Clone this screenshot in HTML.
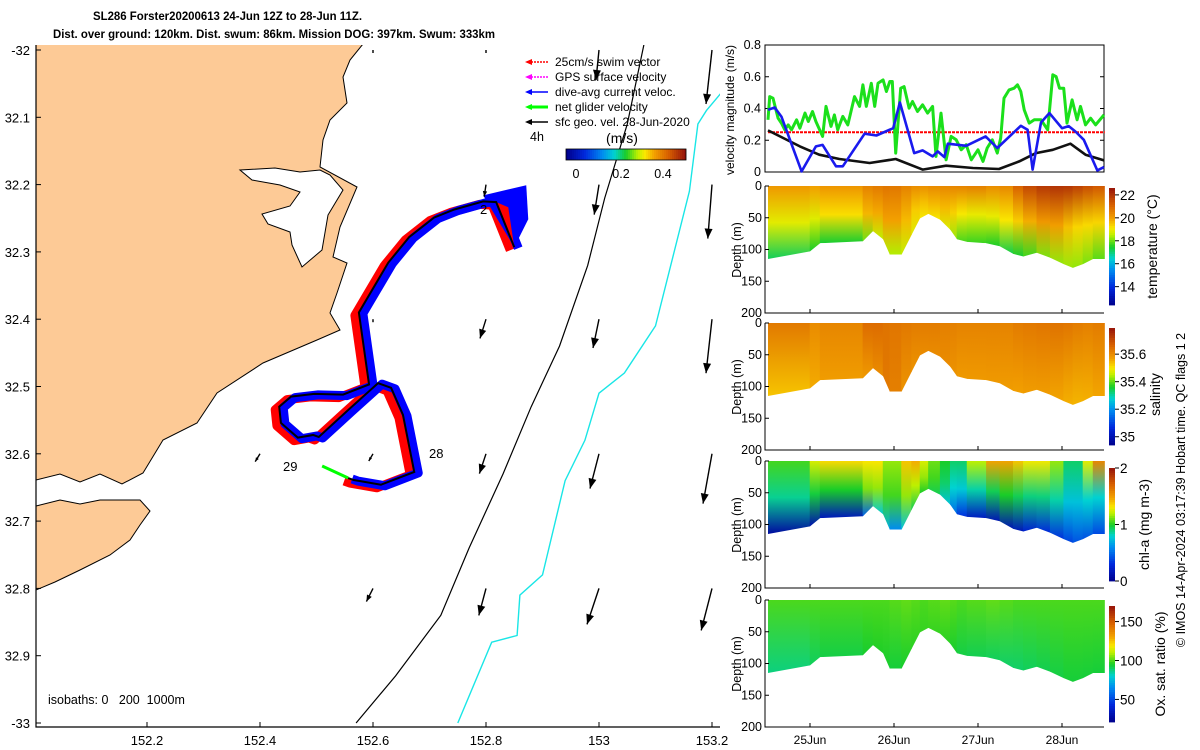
<!DOCTYPE html>
<html><head><meta charset="utf-8"><style>
html,body{margin:0;padding:0;background:#fff}
svg{display:block;font-family:"Liberation Sans","DejaVu Sans",sans-serif}
</style></head><body>
<svg id="fig" width="1200" height="750" viewBox="0 0 1200 750" xmlns="http://www.w3.org/2000/svg">
<defs>
<clipPath id="mapclip"><rect x="36" y="45" width="684" height="682"/></clipPath>
</defs>
<text x="227.5" y="20" font-size="12" font-weight="bold" text-anchor="middle" textLength="269" lengthAdjust="spacingAndGlyphs">SL286 Forster20200613 24-Jun 12Z to 28-Jun 11Z.</text>
<text x="274" y="38" font-size="12" font-weight="bold" text-anchor="middle" textLength="442" lengthAdjust="spacingAndGlyphs">Dist. over ground: 120km. Dist. swum: 86km. Mission DOG: 397km. Swum: 333km</text>
<g id="map"></g>
<g id="vel"></g>
<g id="sections"></g>
<text transform="translate(1185,490) rotate(-90)" font-size="12.5" text-anchor="middle">© IMOS 14-Apr-2024 03:17:39 Hobart time. QC flags 1  2</text>
</svg>
<script>
const NS="http://www.w3.org/2000/svg";
function mk(tag,attrs,parent,txt){const e=document.createElementNS(NS,tag);for(const k in attrs)e.setAttribute(k,attrs[k]);if(txt!==undefined)e.textContent=txt;if(parent)parent.appendChild(e);return e;}

// ---------- data ----------
const lonTicks=[152.2,152.4,152.6,152.8,153,153.2];
const latTicks=[32,32.1,32.2,32.3,32.4,32.5,32.6,32.7,32.8,32.9,33];
const latLabels=["-32","32.1","32.2","32.3","32.4","32.5","32.6","32.7","32.8","32.9","-33"];
const arrowLon=[152.6,152.8,153.0,153.2,152.8,153.0,153.2,152.6,152.8,153.0,153.2,152.4,152.6,152.8,153.0,153.2,153.0];
const arrowLat=[32.0,32.0,32.0,32.0,32.2,32.2,32.2,32.4,32.4,32.4,32.4,32.6,32.6,32.6,32.6,32.6,32.2];
const arrowU=[0,0,-0.05,-0.1,-0.03,-0.08,-0.07,0,-0.1,-0.1,-0.1,-0.08,-0.07,-0.11,-0.15,-0.15,0];
const arrowV=[-0.05,-0.05,-0.5,-0.9,-0.2,-0.5,-0.9,-0.05,-0.32,-0.48,-0.9,-0.13,-0.12,-0.33,-0.58,-0.83,0];
const arrowU2=[-0.11,-0.12,-0.2,-0.18];
const arrowV2=[-0.22,-0.45,-0.6,-0.7];
const arrowLon2=[152.6,152.8,153.0,153.2];
const arrowLat2=[32.8,32.8,32.8,32.8];
const trackLon=[152.85,152.818,152.795,152.744,152.708,152.664,152.627,152.575,152.593,152.547,152.496,152.455,152.434,152.437,152.467,152.494,152.504,152.556,152.609,152.632,152.653,152.673,152.614,152.566,152.556];
const trackLat=[32.293,32.226,32.225,32.237,32.249,32.278,32.316,32.390,32.497,32.512,32.511,32.515,32.530,32.554,32.576,32.572,32.575,32.535,32.495,32.502,32.542,32.627,32.646,32.639,32.636];
const iso200Lon=[152.57,152.64,152.72,152.77,152.83,152.88,152.93,152.98,153.01,153.05,153.08];
const iso200Lat=[33.0,32.93,32.84,32.74,32.63,32.53,32.44,32.32,32.22,32.11,31.99];
const iso1000Lon=[152.75,152.81,152.855,152.86,152.9,152.94,152.975,153.0,153.045,153.1,153.16,153.175,153.19,153.22];
const iso1000Lat=[33.0,32.88,32.87,32.81,32.78,32.64,32.58,32.51,32.48,32.41,32.21,32.11,32.09,32.06];

// velocity panel
const blueT=[24.5,24.58,24.66,24.9,25.07,25.15,25.31,25.39,25.65,25.79,25.99,26.07,26.24,26.34,26.46,26.52,26.6,26.64,26.86,27.09,27.23,27.51,27.59,27.65,27.75,27.85,28.0,28.08,28.16,28.26,28.42,28.5];
const blueV=[0.392,0.406,0.349,0.004,0.161,0.171,0.036,0.036,0.241,0.23,0.276,0.438,0.119,0.136,0.098,0.13,0.094,0.178,0.165,0.224,0.151,0.291,0.266,0.015,0.312,0.371,0.276,0.289,0.255,0.203,0.01,0.031];
const blackT=[24.5,24.88,25.11,25.35,25.71,26.02,26.34,26.62,26.94,27.25,27.49,27.69,27.89,28.1,28.28,28.5];
const blackV=[0.262,0.161,0.109,0.082,0.057,0.082,0.015,0.04,0.025,0.019,0.067,0.119,0.14,0.178,0.109,0.073];
const greenT=[24.5,24.52,24.56,24.62,24.66,24.7,24.74,24.78,24.84,24.88,24.94,24.98,25.03,25.07,25.15,25.19,25.25,25.29,25.33,25.39,25.45,25.53,25.59,25.63,25.67,25.73,25.77,25.81,25.87,25.91,25.95,25.98,26.02,26.08,26.12,26.18,26.22,26.28,26.34,26.4,26.46,26.5,26.56,26.62,26.68,26.74,26.8,26.86,26.92,27.0,27.06,27.11,27.17,27.23,27.27,27.31,27.37,27.43,27.47,27.51,27.55,27.61,27.67,27.75,27.83,27.89,27.93,27.97,28.02,28.06,28.12,28.18,28.22,28.28,28.34,28.4,28.5];
const greenV=[0.329,0.475,0.465,0.339,0.308,0.266,0.297,0.266,0.329,0.276,0.371,0.318,0.381,0.318,0.224,0.413,0.287,0.36,0.266,0.35,0.297,0.475,0.413,0.549,0.413,0.559,0.413,0.559,0.58,0.507,0.57,0.57,0.119,0.528,0.538,0.402,0.444,0.381,0.423,0.371,0.413,0.098,0.371,0.077,0.224,0.203,0.14,0.172,0.077,0.14,0.067,0.151,0.203,0.119,0.214,0.465,0.517,0.528,0.549,0.507,0.392,0.308,0.329,0.329,0.266,0.612,0.601,0.528,0.528,0.308,0.454,0.329,0.413,0.297,0.339,0.297,0.36];
const swimV=[0.25,0.25];
const velTicks=[0,0.2,0.4,0.6,0.8];
const dateTicks=[25,26,27,28];
const dateLabels=["25Jun","26Jun","27Jun","28Jun"];

// sections
const bt=[24.5,25.0,25.12,25.63,25.75,25.87,25.95,26.09,26.21,26.31,26.41,26.55,26.67,26.75,26.87,27.10,27.26,27.42,27.54,27.70,27.86,28.02,28.13,28.25,28.37,28.51];
const bottomDepth=[115,103,90,87,71,84,108,108,77,51,44,53,69,84,88,90,95,107,111,105,113,123,129,123,115,115];
const tempSurf=[20.2,20.0,19.9,20.4,20.6,20.7,20.8,20.6,20.4,20.2,20.3,20.4,20.4,20.5,20.5,20.6,20.0,20.8,21.4,21.8,22.0,22.0,21.9,21.6,21.4,21.2];
const tempMid=[19.0,18.8,18.9,19.6,19.8,19.9,20.0,19.9,19.4,19.5,19.7,19.7,19.6,19.2,19.0,18.9,19.0,19.3,19.6,20.0,20.2,19.8,19.4,19.3,19.3,19.4];
const tempDeep=[16.8,17.6,17.4,17.5,18.6,18.5,18.4,18.5,18.7,19.0,19.2,19.0,18.6,18.0,17.6,17.8,17.2,17.4,17.5,18.0,18.2,18.3,18.3,18.2,18.0,17.8];
const salSurf=[35.64,35.62,35.58,35.64,35.66,35.64,35.64,35.63,35.63,35.62,35.63,35.62,35.62,35.62,35.61,35.62,35.61,35.62,35.63,35.63,35.64,35.64,35.63,35.62,35.62,35.63];
const salDeep=[35.52,35.55,35.57,35.58,35.58,35.62,35.64,35.6,35.58,35.6,35.6,35.6,35.6,35.58,35.58,35.58,35.58,35.57,35.57,35.58,35.57,35.56,35.55,35.55,35.56,35.57];
const chlSurf=[1.05,1.05,1.45,1.25,1.4,1.25,1.05,1.25,1.55,1.35,1.15,1.05,0.95,0.9,0.95,1.45,1.5,1.45,1.35,1.25,1.35,0.95,0.9,0.95,1.6,1.55];
const chlMid=[0.75,1.0,0.95,1.05,1.2,1.1,1.0,1.1,1.2,1.2,1.1,1.0,0.85,0.75,0.8,0.9,1.0,1.0,0.9,0.9,0.9,0.8,0.7,0.8,0.8,0.8];
const chlDeep=[0.05,0.1,0.15,0.2,0.75,0.8,0.6,0.6,0.9,1.0,1.0,0.9,0.6,0.4,0.25,0.15,0.15,0.15,0.2,0.3,0.3,0.35,0.4,0.45,0.4,0.4];
const oxSurf=[100,100,100,100,100,100,100,102,102,100,100,102,102,100,100,102,102,100,100,100,100,100,100,100,100,100];
const oxDeep=[86,90,92,94,96,96,94,94,96,98,98,98,96,94,92,92,90,90,90,92,92,94,94,94,94,94];
const depthTicks=[0,50,100,150,200];

// ---------- colormap ----------
const cmapStops=[[0,[0,0,140]],[0.15,[0,40,220]],[0.3,[0,140,240]],[0.4,[0,210,210]],[0.5,[25,205,40]],[0.6,[190,240,0]],[0.66,[250,232,0]],[0.74,[242,160,0]],[0.86,[215,95,0]],[1,[150,20,10]]];
function cmap(f){f=Math.max(0,Math.min(1,f));for(let i=1;i<cmapStops.length;i++){if(f<=cmapStops[i][0]){const a=cmapStops[i-1],b=cmapStops[i];const r=(f-a[0])/(b[0]-a[0]);const c=a[1].map((v,k)=>Math.round(v+(b[1][k]-v)*r));return `rgb(${c[0]},${c[1]},${c[2]})`;}}return "rgb(150,20,10)";}

// ---------- map ----------
const map=document.getElementById('map');
const X=lon=>147+(lon-152.2)*565;
const Y=lat=>50+(lat-32)*673;
const mapInner=mk('g',{'clip-path':'url(#mapclip)'},map);
const land=mk('polygon',{points:"36,44 363,44 350,60 343,77 347,103 330,120 323,140 320,167 357,187 340,227 333,257 347,263 337,293 330,313 340,330 317,340 263,363 217,393 197,423 163,440 143,473 122,484 100,474 80,482 60,474 36,480",fill:"#fdca96",stroke:"#000","stroke-width":"1"},mapInner);


const land2=mk('polygon',{points:"36,506 60,500 80,504 100,500 140,500 150,511 140,525 130,540 110,555 80,570 55,582 36,590",fill:"#fdca96",stroke:"#000","stroke-width":"1"},mapInner);


const lake=mk('polygon',{points:"240,170 275,168 300,172 320,170 330,175 343,190 328,215 322,250 302,267 292,245 290,232 268,224 262,214 290,206 300,192 280,185 252,180",fill:"#fff",stroke:"#000","stroke-width":"1"},mapInner);


function polyLL(lons,lats){return lons.map((l,i)=>X(l).toFixed(1)+","+Y(lats[i]).toFixed(1)).join(" ");}
const iso2=mk('polyline',{points:polyLL(iso200Lon,iso200Lat),fill:"none",stroke:"#000","stroke-width":"1.2"},mapInner);


const iso1=mk('polyline',{points:polyLL(iso1000Lon,iso1000Lat),fill:"none",stroke:"#19e6e6","stroke-width":"1.4"},mapInner);


const pts=trackLon.map((l,i)=>[X(l),Y(trackLat[i])]);
const redBand=mk('polyline',{points:pts.map(p=>(p[0]-4)+","+(p[1]+3)).join(" "),fill:"none",stroke:"#f00","stroke-width":"9","stroke-linejoin":"round"},mapInner);


const blueBand=mk('polyline',{points:pts.map(p=>(p[0]+4)+","+(p[1]+1)).join(" "),fill:"none",stroke:"#00f","stroke-width":"9","stroke-linejoin":"round"},mapInner);


const fanB=mk('polygon',{points:`${pts[2][0]},${pts[2][1]-6} ${pts[0][0]+12},${pts[0][1]-62} ${pts[0][0]+14},${pts[0][1]-28} ${pts[0][0]},${pts[0][1]}`,fill:"#00f"},mapInner);


const fanR=mk('polygon',{points:`${pts[1][0]},${pts[1][1]} ${pts[0][0]-6},${pts[0][1]-40} ${pts[0][0]},${pts[0][1]}`,fill:"#f00"},mapInner);


const tr=mk('polyline',{points:pts.map(p=>p[0]+","+p[1]).join(" "),fill:"none",stroke:"#000","stroke-width":"2"},mapInner);


const netv=mk('line',{x1:pts[24][0],y1:pts[24][1],x2:pts[24][0]-26,y2:pts[24][1]-12,stroke:"#0f0","stroke-width":"3"},mapInner);


function arrow(lon,lat,u,v,name){
  const x1=X(lon),y1=Y(lat),x2=x1+u*60,y2=y1-v*60;
  const g=mk('g',{},mapInner);
  
  
  mk('line',{x1,y1,x2,y2,stroke:"#000","stroke-width":"1.4"},g);
  const L=Math.hypot(x2-x1,y2-y1)||1,ux=(x2-x1)/L,uy=(y2-y1)/L,h=Math.min(10,L*0.45),w=h*0.4;
  mk('polygon',{points:`${x2},${y2} ${x2-ux*h-uy*w},${y2-uy*h+ux*w} ${x2-ux*h+uy*w},${y2-uy*h-ux*w}`,fill:"#000"},g);
}
arrowLon.forEach((l,i)=>arrow(l,arrowLat[i],arrowU[i],arrowV[i],'current-arrow'));
arrowLon2.forEach((l,i)=>arrow(l,arrowLat2[i],arrowU2[i],arrowV2[i],'current-arrow'));
const t28=mk('text',{x:429,y:458,"font-size":"13"},mapInner,"28");
const t29=mk('text',{x:283,y:471,"font-size":"13"},mapInner,"29");
const t2=mk('text',{x:480,y:214,"font-size":"13"},mapInner,"2");
const iso=mk('text',{x:48,y:704,"font-size":"12.5",style:"white-space:pre"},mapInner,"isobaths: 0   200  1000m");
const legItems=[["#f00","25cm/s swim vector"],["#f0f","GPS surface velocity"],["#00f","dive-avg current veloc."],["#0f0","net glider velocity"],["#000","sfc geo. vel. 28-Jun-2020"]];
legItems.forEach((it,i)=>{const y=62+i*15;const g=mk('g',{},map);
  
  
  mk('line',{x1:528,y1:y,x2:548,y2:y,stroke:it[0],"stroke-width":i==3?"3":"1.5","stroke-dasharray":i<2?"2,1":"none"},g);
  mk('polygon',{points:`525,${y} 532,${y-3} 532,${y+3}`,fill:it[0]},g);
  mk('text',{x:555,y:y+4,"font-size":"12"},g,it[1]);});
const h4=mk('text',{x:530,y:141,"font-size":"12.5"},map,"4h");
const ms=mk('text',{x:622,y:143,"font-size":"14","text-anchor":"middle"},map,"(m/s)");
const cbm=mk('g',{},map);
for(let i=0;i<60;i++)mk('rect',{x:566+i*2,y:149,width:2.2,height:11,fill:cmap(i/59)},cbm);
mk('rect',{x:566,y:149,width:120,height:11,fill:"none",stroke:"#000","stroke-width":"0.8"},cbm);
[[0,576],[0.2,621],[0.4,663]].forEach(t=>mk('text',{x:t[1],y:178,"font-size":"12.5","text-anchor":"middle"},cbm,String(t[0])));
const frame=mk('polyline',{points:"36,45 36,727 720,727",fill:"none",stroke:"#000","stroke-width":"1.2"},map);

lonTicks.forEach(l=>{const x=X(l);mk('line',{x1:x,y1:727,x2:x,y2:722,stroke:"#000"},map);const t=mk('text',{x:x,y:745,"font-size":"13","text-anchor":"middle"},map,String(l));});
latTicks.forEach((l,i)=>{const y=Y(l);mk('line',{x1:36,y1:y,x2:41,y2:y,stroke:"#000"},map);const t=mk('text',{x:30,y:y+5,"font-size":"13","text-anchor":"end"},map,latLabels[i]);});

// ---------- velocity panel ----------
const vel=document.getElementById('vel');
const TX=t=>810+(t-25)*84;
const VY=v=>172-v/0.8*127;
mk('rect',{x:765,y:45,width:339,height:127,fill:"none",stroke:"#000","stroke-width":"1"},vel);
velTicks.forEach(v=>{const y=VY(v);mk('line',{x1:765,y1:y,x2:769,y2:y,stroke:"#000"},vel);mk('line',{x1:1104,y1:y,x2:1100,y2:y,stroke:"#000"},vel);const t=mk('text',{x:761,y:y+4,"font-size":"12.5","text-anchor":"end"},vel,String(v));});
const vyl=mk('text',{transform:"translate(734,110) rotate(-90)","font-size":"12","text-anchor":"middle"},vel,"velocity magnitude (m/s)");
function series(T,V,col,w,name,dash){const p=mk('polyline',{points:T.map((t,i)=>TX(t).toFixed(1)+","+VY(V[i]).toFixed(1)).join(" "),fill:"none",stroke:col,"stroke-width":w,"stroke-linejoin":"round"},vel);if(dash)p.setAttribute('stroke-dasharray',dash);}
series([24.5,28.51],swimV,"#f00","2","swim-speed-line","3,1");
series(greenT,greenV,"#1be01b","3","net-glider-speed-line");
series(blackT,blackV,"#111","2.6","geostrophic-speed-line");
series(blueT,blueV,"#1a1aee","2.6","current-speed-line");

// ---------- sections ----------
const sec=document.getElementById('sections');
const panels=[
 {top:186,name:'temperature',surf:tempSurf,mid:tempMid,deep:tempDeep,vmin:12.4,vmax:22.6,cbTop:188,cbBot:305,ticks:[14,16,18,20,22],label:"temperature (°C)",lx:1157},
 {top:323,name:'salinity',surf:salSurf,mid:null,deep:salDeep,vmin:34.94,vmax:35.79,cbTop:328,cbBot:445,ticks:[35,35.2,35.4,35.6],label:"salinity",lx:1160},
 {top:461,name:'chlorophyll',surf:chlSurf,mid:chlMid,deep:chlDeep,vmin:0,vmax:2,cbTop:468,cbBot:581,ticks:[0,1,2],label:"chl-a (mg m-3)",lx:1149},
 {top:600,name:'oxygen',surf:oxSurf,mid:null,deep:oxDeep,vmin:21,vmax:170,cbTop:606,cbBot:722,ticks:[50,100,150],label:"Ox. sat. ratio (%)",lx:1165}];
const defs=document.querySelector('defs');
panels.forEach((P,pi)=>{
  const g=mk('g',{},sec);
  
  
  const DY=d=>P.top+d/200*127;
  const f=v=>(v-P.vmin)/(P.vmax-P.vmin);
  const cp=mk('clipPath',{id:'cp'+pi},defs);
  mk('polygon',{points:`${TX(bt[0])},${DY(0)} `+bt.map((t,i)=>TX(t).toFixed(1)+","+DY(bottomDepth[i]).toFixed(1)).join(" ")+` ${TX(bt[bt.length-1])},${DY(0)}`},cp);
  const cg=mk('g',{'clip-path':`url(#cp${pi})`},g);
  for(let i=0;i<bt.length-1;i++){
    const gid='gr'+pi+'_'+i;
    const lg=mk('linearGradient',{id:gid,x1:0,y1:0,x2:0,y2:1},defs);
    const dmax=Math.max(bottomDepth[i],bottomDepth[i+1]);
    const sv=(P.surf[i]+P.surf[i+1])/2, dv=(P.deep[i]+P.deep[i+1])/2;
    mk('stop',{offset:"0",'stop-color':cmap(f(sv))},lg);
    if(P.mid){const mv=(P.mid[i]+P.mid[i+1])/2;mk('stop',{offset:"0.5",'stop-color':cmap(f(mv))},lg);}
    mk('stop',{offset:"1",'stop-color':cmap(f(dv))},lg);
    const r=mk('rect',{x:TX(bt[i])-0.3,y:DY(0),width:TX(bt[i+1])-TX(bt[i])+0.6,height:DY(dmax)-DY(0),fill:`url(#${gid})`},cg);
    
    
  }
  mk('polyline',{points:`765,${P.top} 765,${P.top+127} 1104,${P.top+127}`,fill:"none",stroke:"#000","stroke-width":"1"},g);
  depthTicks.forEach(d=>{const y=DY(d);mk('line',{x1:765,y1:y,x2:769,y2:y,stroke:"#000"},g);const t=mk('text',{x:762,y:y+4,"font-size":"12.5","text-anchor":"end"},g,String(d));});
  dateTicks.forEach(d=>{mk('line',{x1:TX(d),y1:P.top+127,x2:TX(d),y2:P.top+123,stroke:"#000"},g);});
  const yl=mk('text',{transform:`translate(741,${P.top+64}) rotate(-90)`,"font-size":"12.5","text-anchor":"middle"},g,"Depth (m)");
  const cb=mk('g',{},g);
  const n=50,h=(P.cbBot-P.cbTop)/n;
  for(let k=0;k<n;k++)mk('rect',{x:1109,y:P.cbBot-(k+1)*h,width:6,height:h+0.4,fill:cmap((k+0.5)/n)},cb);
  P.ticks.forEach(v=>{const y=P.cbBot-f(v)*(P.cbBot-P.cbTop);mk('line',{x1:1115,y1:y,x2:1119,y2:y,stroke:"#000"},cb);mk('text',{x:1120,y:y+5,"font-size":"13.5"},cb,String(v));});
  const cl=mk('text',{transform:`translate(${P.lx},${(P.cbTop+P.cbBot)/2+(pi==1?8:0)}) rotate(-90)`,"font-size":"14","text-anchor":"middle"},g,P.label);
  
});
dateTicks.forEach((d,i)=>{const t=mk('text',{x:TX(d),y:744,"font-size":"12","text-anchor":"middle"},sec,dateLabels[i]);});
</script>
</body></html>
